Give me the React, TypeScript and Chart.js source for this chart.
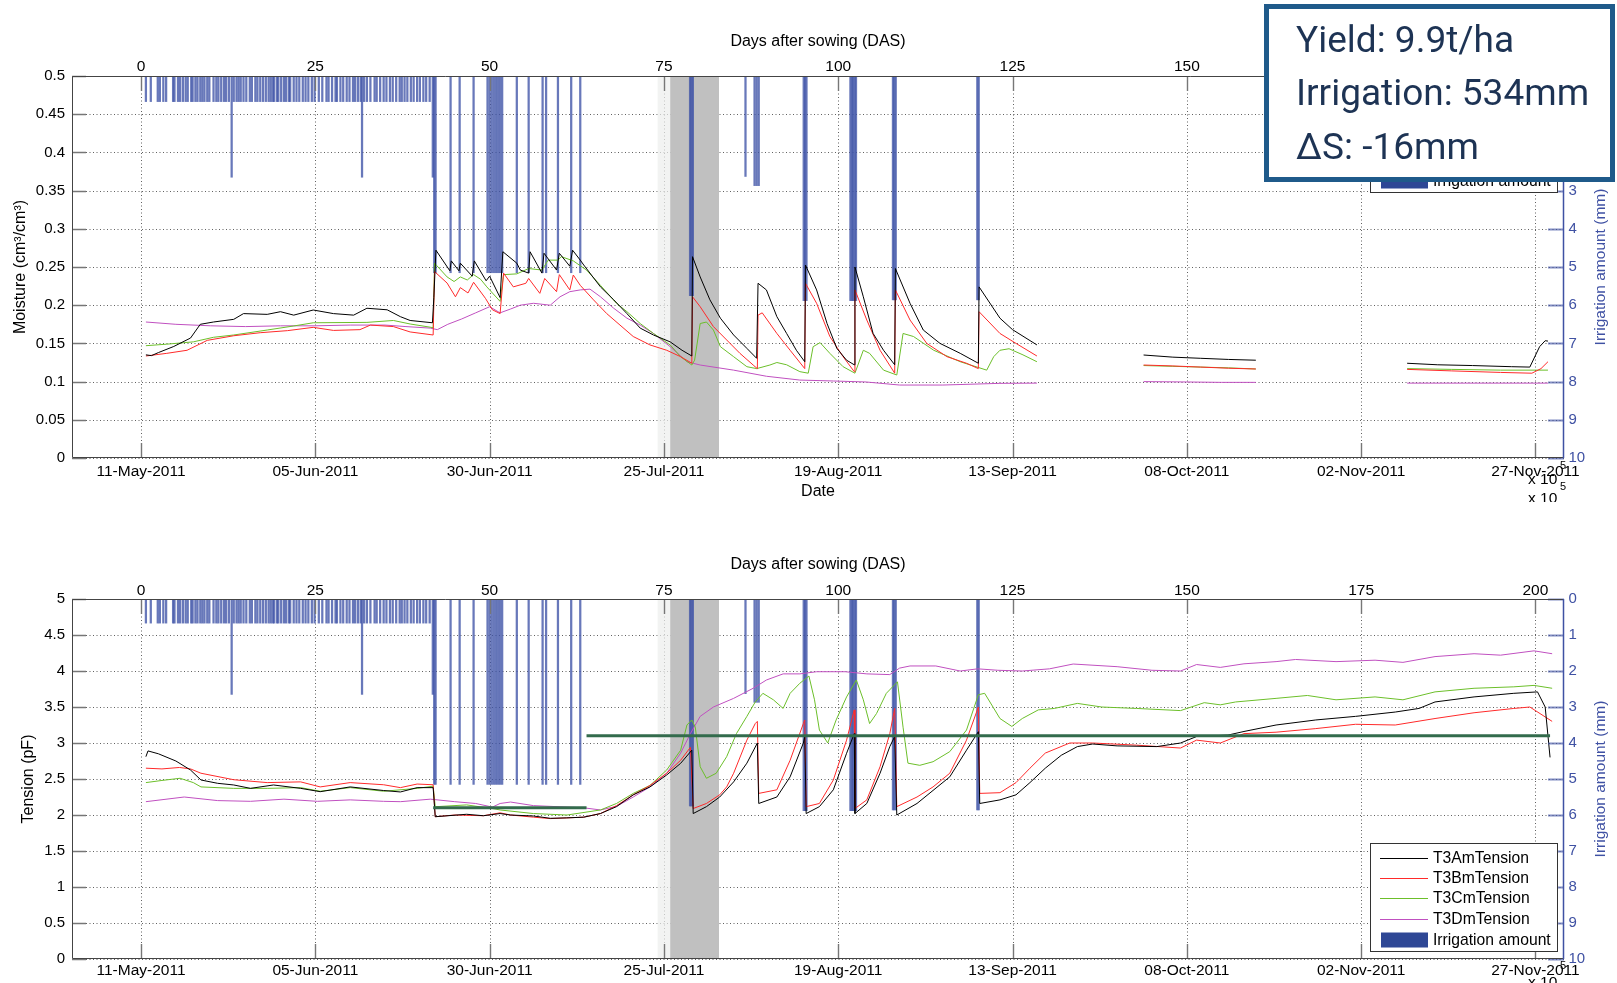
import React, { useEffect, useRef } from 'react';
import { Chart, registerables } from 'chart.js';
Chart.register(...registerables);

// ---------- axes / labels ----------
const dasRange = [-9.9, 204.1];
const dasTicks = [0, 25, 50, 75, 100, 125, 150, 175, 200];
const dateLabels = ['11-May-2011', '05-Jun-2011', '30-Jun-2011', '25-Jul-2011', '19-Aug-2011', '13-Sep-2011', '08-Oct-2011', '02-Nov-2011', '27-Nov-2011'];
const moistTicks = [0, 0.05, 0.1, 0.15, 0.2, 0.25, 0.3, 0.35, 0.4, 0.45, 0.5];
const tensionTicks = [0, 0.5, 1, 1.5, 2, 2.5, 3, 3.5, 4, 4.5, 5];
const irrigTicks = [0, 1, 2, 3, 4, 5, 6, 7, 8, 9, 10];
const grayBandDas = [75.9, 82.9];
const lightBandDas = [74.1, 75.9];
const legendTopLabels = ['T3AmMoisture', 'T3BmMoisture', 'T3CmMoisture', 'T3DmMoisture', 'Irrigation amount'];
const legendBottomLabels = ['T3AmTension', 'T3BmTension', 'T3CmTension', 'T3DmTension', 'Irrigation amount'];
const infoLines = ['Yield: 9.9t/ha', 'Irrigation: 534mm', '\u0394S: -16mm'];

// ---------- irrigation events [DAS, mm] ----------
const irrigation: [number, number][] = [
  [0.7, 0.67], [1.4, 0.67], [2.4, 0.67], [2.7, 0.67], [3.2, 0.67], [3.6, 0.67], [4.6, 0.67], [4.8, 0.67], [5.3, 0.67], [5.6, 0.67],
  [6.0, 0.67], [6.4, 0.67], [6.7, 0.67], [7.2, 0.67], [7.4, 0.67], [7.8, 0.67], [8.1, 0.67], [8.5, 0.67], [8.8, 0.67], [9.1, 0.67],
  [9.5, 0.67], [9.8, 0.67], [10.4, 0.67], [10.8, 0.67], [11.1, 0.67], [11.5, 0.67], [11.9, 0.67], [12.2, 0.67], [12.6, 0.67], [13.0, 2.65],
  [13.3, 0.67], [13.7, 0.67], [14.0, 0.67], [14.3, 0.67], [14.7, 0.67], [15.1, 0.67], [15.6, 0.67], [15.9, 0.67], [16.4, 0.67], [16.7, 0.67],
  [17.1, 0.67], [17.5, 0.67], [17.9, 0.67], [18.3, 0.67], [18.6, 0.67], [18.9, 0.67], [19.1, 0.67], [19.5, 0.67], [19.7, 0.67], [20.1, 0.67],
  [20.5, 0.67], [20.8, 0.67], [21.2, 0.67], [21.4, 0.67], [21.9, 0.67], [22.3, 0.67], [22.7, 0.67], [23.2, 0.67], [23.6, 0.67], [24.0, 0.67],
  [24.5, 0.67], [24.9, 0.67], [25.5, 0.67], [26.0, 0.67], [26.6, 0.67], [26.9, 0.67], [27.4, 0.67], [27.9, 0.67], [28.1, 0.67], [28.6, 0.67],
  [29.0, 0.67], [29.5, 0.67], [29.9, 0.67], [30.4, 0.67], [30.7, 0.67], [31.1, 0.67], [31.5, 0.67], [31.7, 2.65], [32.0, 0.67], [32.4, 0.67],
  [32.9, 0.67], [33.5, 0.67], [33.8, 0.67], [34.3, 0.67], [34.8, 0.67], [35.2, 0.67], [35.7, 0.67], [36.1, 0.67], [36.6, 0.67], [37.1, 0.67],
  [37.4, 0.67], [37.8, 0.67], [38.2, 0.67], [38.7, 0.67], [39.1, 0.67], [39.6, 0.67], [40.0, 0.67], [40.5, 0.67], [40.9, 0.67], [41.4, 0.67],
  [41.85, 2.65], [42.05, 5.15], [42.25, 5.15], [44.4, 5.15], [45.7, 5.15], [47.7, 5.15], [49.7, 5.15], [50.0, 5.15], [50.3, 5.15], [50.6, 5.15],
  [50.9, 5.15], [51.2, 5.15], [51.5, 5.15], [51.8, 5.15], [53.9, 5.15], [55.6, 5.15], [57.6, 5.15],
  [58.1, 5.15], [59.8, 5.15], [61.7, 5.15], [63.0, 5.15],
  [78.75, 5.75], [78.95, 5.75], [79.15, 5.75], [86.7, 2.63], [88.0, 2.87], [88.3, 2.87], [88.6, 2.87],
  [95.05, 5.88], [95.25, 5.88], [95.45, 5.88], [101.75, 5.88], [101.95, 5.88], [102.15, 5.88], [102.35, 5.88], [102.55, 5.88],
  [107.85, 5.86], [108.05, 5.86], [108.25, 5.86], [119.95, 5.86], [120.15, 5.86],
];

// ---------- moisture (cm3/cm3) [DAS, value] ----------
const t3aMoisture: [number, number | null][] = [
  [0.7, 0.135], [1.5, 0.134], [2.5, 0.138], [4.7, 0.146], [7.1, 0.157], [8.5, 0.175], [10.4, 0.178], [13.3, 0.1815], [14.7, 0.189], [18.1, 0.188],
  [20.0, 0.1915], [21.9, 0.187], [24.7, 0.1937], [27.6, 0.189], [30.5, 0.187], [32.4, 0.196], [35.3, 0.194], [37.2, 0.185], [38.6, 0.18], [41.8, 0.177],
  [42.0, 0.21], [42.3, 0.272], [44.3, 0.245], [44.5, 0.258], [45.6, 0.245], [45.8, 0.255], [47.5, 0.238], [47.8, 0.258], [49.5, 0.232], [50.0, 0.238],
  [51.5, 0.21], [51.9, 0.27], [53.9, 0.255], [54.4, 0.246], [55.6, 0.242], [55.8, 0.27], [57.5, 0.242], [57.8, 0.268], [59.6, 0.246], [60.0, 0.268],
  [61.5, 0.251], [61.9, 0.272], [63.0, 0.259], [63.5, 0.2526], [65.9, 0.224], [67.8, 0.207], [69.7, 0.189], [71.6, 0.17], [73.5, 0.161], [75.9, 0.152],
  [77.6, 0.141], [79.0, 0.1335], [79.1, 0.2635], [80.2, 0.237], [81.6, 0.207], [83.1, 0.183], [85.0, 0.161], [86.9, 0.1435], [88.3, 0.1305], [88.5, 0.2287],
  [89.7, 0.22], [91.2, 0.185], [92.6, 0.163], [94.0, 0.141], [95.2, 0.126], [95.3, 0.2526], [96.9, 0.22], [98.4, 0.176], [99.8, 0.1435], [101.2, 0.128],
  [102.3, 0.122], [102.4, 0.25], [103.6, 0.211], [105.0, 0.163], [106.5, 0.141], [108.1, 0.122], [108.2, 0.248], [110.3, 0.2025], [112.2, 0.1675], [114.6, 0.15],
  [117.5, 0.137], [120.1, 0.124], [120.2, 0.224], [123.2, 0.183], [125.0, 0.168], [128.5, 0.148], [136, null],
  [143.8, 0.1348], [148, 0.132], [152, 0.1305], [156, 0.129], [159.9, 0.128], [170, null],
  [181.6, 0.124], [186, 0.122], [191, 0.121], [196.6, 0.1195], [199.2, 0.119], [200.6, 0.1457], [201.4, 0.1535], [201.8, 0.153],
];
const t3bMoisture: [number, number | null][] = [
  [0.7, 0.1335], [3.7, 0.137], [6.6, 0.141], [9.5, 0.154], [13.3, 0.16], [17.1, 0.164], [21.0, 0.1667], [24.7, 0.171], [27.6, 0.167], [31.4, 0.168],
  [32.9, 0.174], [36.2, 0.172], [38.6, 0.165], [41.9, 0.161], [42.1, 0.244], [43.9, 0.229], [45.1, 0.211], [45.8, 0.223], [46.9, 0.216], [47.7, 0.23],
  [49.4, 0.209], [50.4, 0.194], [51.5, 0.189], [52.0, 0.242], [53.4, 0.224], [55.2, 0.2287], [55.6, 0.235], [57.2, 0.2155], [57.9, 0.235], [59.6, 0.2177],
  [60.0, 0.24], [61.5, 0.22], [62.0, 0.2395], [63.0, 0.226], [64.9, 0.207], [66.8, 0.189], [68.7, 0.174], [70.6, 0.159], [73.0, 0.148], [75.4, 0.141],
  [77.4, 0.1326], [79.0, 0.124], [79.1, 0.211], [80.2, 0.198], [82.1, 0.172], [84.0, 0.1545], [85.9, 0.137], [87.8, 0.1217], [88.4, 0.117], [88.5, 0.187],
  [89.1, 0.19], [91.2, 0.163], [93.1, 0.141], [95.2, 0.117], [95.3, 0.2287], [96.9, 0.2025], [98.8, 0.159], [100.7, 0.1326], [102.3, 0.113], [102.4, 0.22],
  [104.1, 0.1806], [106.0, 0.141], [108.1, 0.111], [108.2, 0.22], [110.3, 0.1806], [112.7, 0.15], [115.6, 0.1326], [118.4, 0.124], [120.1, 0.117], [120.2, 0.1915],
  [123.2, 0.163], [125.5, 0.15], [128.5, 0.1335], [136, null],
  [143.8, 0.1217], [148, 0.1205], [152, 0.119], [156, 0.1175], [159.9, 0.1165], [170, null],
  [181.6, 0.116], [188, 0.114], [195, 0.112], [199.5, 0.111], [200.8, 0.117], [201.8, 0.126],
];
const t3cMoisture: [number, number | null][] = [
  [0.7, 0.147], [3.7, 0.149], [7.5, 0.152], [10.4, 0.158], [13.3, 0.161], [18.1, 0.1675], [21.9, 0.1728], [24.7, 0.177], [32.4, 0.1775], [36.2, 0.18],
  [38.6, 0.1754], [41.9, 0.1706], [42.1, 0.255], [43.9, 0.237], [44.9, 0.231], [45.8, 0.237], [46.8, 0.233], [47.7, 0.24], [48.7, 0.234], [49.6, 0.224],
  [51.5, 0.205], [52.0, 0.24], [53.9, 0.241], [55.6, 0.248], [57.5, 0.246], [58.4, 0.259], [59.8, 0.259], [60.3, 0.2635], [62.0, 0.258], [63.9, 0.246],
  [65.9, 0.226], [68.2, 0.2025], [69.7, 0.1915], [71.6, 0.176], [73.5, 0.163], [75.9, 0.148], [77.4, 0.1326], [79.0, 0.1217], [79.4, 0.128], [80.2, 0.176],
  [81.1, 0.178], [82.1, 0.1675], [83.1, 0.1457], [85.0, 0.1326], [86.9, 0.1195], [88.3, 0.117], [90.2, 0.1217], [91.2, 0.125], [92.6, 0.122], [94.5, 0.113],
  [95.7, 0.111], [96.4, 0.1457], [97.4, 0.151], [98.8, 0.137], [100.7, 0.1195], [102.4, 0.111], [103.6, 0.141], [104.5, 0.137], [106.5, 0.115], [108.4, 0.1086],
  [109.3, 0.163], [110.8, 0.159], [113.7, 0.141], [117.5, 0.126], [121.3, 0.115], [122.3, 0.1326], [123.2, 0.141], [124.5, 0.143], [126.5, 0.135], [128.5, 0.126], [136, null],
  [143.8, 0.121], [148, 0.12], [152, 0.119], [156, 0.118], [159.9, 0.1165], [170, null],
  [181.6, 0.117], [188, 0.116], [195, 0.115], [201.8, 0.115],
];
const t3dMoisture: [number, number | null][] = [
  [0.7, 0.178], [5, 0.175], [10, 0.173], [15, 0.172], [20, 0.173], [25, 0.173], [30, 0.174], [35, 0.174], [38, 0.172], [41.5, 0.17],
  [42.5, 0.168], [44, 0.175], [46, 0.182], [48, 0.19], [50, 0.198], [51.5, 0.19], [53, 0.195], [54.4, 0.2], [56.3, 0.2025], [58.7, 0.2],
  [60.1, 0.211], [61.5, 0.2177], [63.0, 0.22], [64.4, 0.221], [65.9, 0.211], [67.8, 0.196], [69.7, 0.183], [71.6, 0.174], [73.5, 0.163], [75.9, 0.1457],
  [78.3, 0.126], [80.2, 0.1217], [85.0, 0.115], [89.7, 0.107], [94.5, 0.102], [99.3, 0.1008], [104, 0.0995], [108.8, 0.0955], [115, 0.0955], [123.2, 0.0977],
  [128.5, 0.098], [136, null],
  [143.8, 0.1], [150, 0.0995], [155, 0.099], [159.9, 0.099], [170, null],
  [181.6, 0.098], [190, 0.098], [201.8, 0.098],
];

// ---------- tension (pF) [DAS, value] ----------
const t3aTension: [number, number][] = [
  [0.7, 2.81], [1.0, 2.89], [2.5, 2.85], [5.0, 2.75], [7.1, 2.625], [8.6, 2.486], [11, 2.44], [13.3, 2.417], [15.7, 2.37], [19.0, 2.417],
  [22.9, 2.37], [25.7, 2.324], [30.0, 2.39], [34.8, 2.34], [37.2, 2.32], [39.6, 2.38], [41.9, 2.38], [42.2, 1.976], [46.7, 2.01], [49.1, 1.99],
  [51.5, 2.02], [53, 2.0], [56.3, 1.986], [58.7, 1.954], [61, 1.96], [63.5, 1.97], [65.9, 2.02], [68.2, 2.116], [70.6, 2.28], [73.0, 2.39],
  [75.4, 2.556], [77.4, 2.718], [79.0, 2.9], [79.2, 2.02], [81.1, 2.116], [83.0, 2.25], [85.0, 2.46], [86.9, 2.72], [88.4, 3.0], [88.6, 2.16],
  [91.2, 2.25], [93.1, 2.53], [95.0, 3.0], [95.2, 3.09], [95.4, 2.02], [97.3, 2.116], [99.3, 2.35], [101.2, 2.857], [102.3, 3.13], [102.4, 2.02],
  [104.1, 2.16], [106.0, 2.58], [107.4, 2.95], [108.1, 3.09], [108.4, 2.0], [111.3, 2.16], [116.0, 2.53], [118.4, 2.9], [120.1, 3.157], [120.3, 2.16],
  [123.2, 2.21], [125.5, 2.28], [127.5, 2.45], [129.7, 2.65], [132.0, 2.83], [134.3, 2.95], [136.5, 2.986], [140, 2.96], [145.7, 2.95], [149.1, 3.0],
  [151.4, 3.09], [155.9, 3.11], [158.2, 3.16], [162.8, 3.25], [168.5, 3.32], [174.2, 3.37], [179.9, 3.43], [183.3, 3.48], [185.6, 3.57], [191.2, 3.64],
  [196.9, 3.69], [200.3, 3.71], [201.4, 3.5], [202.1, 2.8],
];
const t3bTension: [number, number][] = [
  [0.7, 2.65], [3, 2.64], [5.5, 2.66], [7.1, 2.64], [8.6, 2.58], [13.3, 2.49], [18.1, 2.45], [22.9, 2.46], [25.7, 2.39], [30, 2.45],
  [34.8, 2.42], [37.2, 2.38], [39.6, 2.43], [41.9, 2.42], [42.2, 1.976], [45, 2.0], [49.1, 1.99], [51.5, 2.03], [53, 2.0], [56.3, 1.97],
  [58.7, 1.95], [63.5, 1.97], [65.9, 2.02], [68.2, 2.13], [70.6, 2.28], [73.0, 2.41], [75.4, 2.58], [77.4, 2.76], [78.8, 2.94], [79.2, 2.09],
  [81.1, 2.16], [83, 2.28], [84, 2.39], [85, 2.58], [86.9, 3.04], [88.1, 3.27], [88.4, 3.3], [88.6, 2.3], [91.2, 2.35], [93.1, 2.76],
  [95.0, 3.27], [95.2, 3.32], [95.4, 2.116], [97.3, 2.16], [99.3, 2.486], [101.2, 3.04], [102.3, 3.46], [102.4, 2.09], [104.1, 2.21], [106, 2.67],
  [107.4, 3.13], [108.1, 3.48], [108.4, 2.116], [111.3, 2.25], [113.6, 2.39], [116, 2.58], [118.4, 3.04], [120.1, 3.5], [120.3, 2.3], [123.2, 2.31],
  [125.5, 2.45], [127.5, 2.65], [129.7, 2.86], [133.2, 3.0], [136.5, 3.0], [142.8, 2.97], [149.1, 2.93], [151.4, 3.04], [154.8, 3.0], [158.2, 3.13],
  [162.8, 3.15], [168.5, 3.2], [174.2, 3.26], [179.9, 3.25], [185.6, 3.34], [191.2, 3.42], [196.9, 3.48], [199.2, 3.5], [202.4, 3.3],
];
const t3cTension: [number, number][] = [
  [0.7, 2.45], [3, 2.48], [5.6, 2.51], [7.5, 2.45], [8.6, 2.39], [13.3, 2.37], [18.1, 2.37], [22.9, 2.38], [25.7, 2.33], [30, 2.38],
  [34.8, 2.33], [39.6, 2.37], [41.9, 2.4], [42.2, 2.115], [46.7, 2.14], [50.4, 2.09], [51.5, 2.07], [56.3, 2.02], [61.1, 2.0], [65.9, 2.07],
  [68.2, 2.16], [70.6, 2.3], [73.0, 2.41], [75.4, 2.625], [77.4, 2.9], [78.3, 3.25], [79.0, 3.32], [79.5, 3.22], [80.2, 2.67], [81.1, 2.51],
  [82.5, 2.58], [84, 2.81], [85.4, 3.13], [86.9, 3.37], [88.1, 3.57], [89.2, 3.69], [90.7, 3.6], [92.1, 3.48], [93.1, 3.69], [94.5, 3.83],
  [95.8, 3.93], [96.6, 3.6], [97.3, 3.18], [98.5, 3.0], [99.7, 3.32], [101.2, 3.64], [102.6, 3.875], [103.6, 3.6], [104.5, 3.27], [105.5, 3.41],
  [106.9, 3.69], [108.5, 3.85], [109.3, 3.22], [110.0, 2.72], [111.7, 2.69], [113.6, 2.74], [116, 2.88], [118.4, 3.18], [120.1, 3.67], [121, 3.69],
  [122.2, 3.5], [123.2, 3.34], [124.9, 3.23], [126.4, 3.34], [128.7, 3.46], [131, 3.48], [134.3, 3.55], [137.8, 3.5], [142.8, 3.48], [149.1, 3.45],
  [152.5, 3.56], [154.8, 3.53], [157, 3.57], [162.8, 3.62], [167.3, 3.66], [171.4, 3.6], [177, 3.64], [181, 3.6], [185.6, 3.71], [191.2, 3.76],
  [196.9, 3.78], [199.8, 3.8], [202.4, 3.76],
];
const t3dTension: [number, number][] = [
  [0.7, 2.185], [6.2, 2.25], [11, 2.2], [15.7, 2.19], [20.5, 2.22], [25.3, 2.19], [30, 2.21], [34.8, 2.19], [37.2, 2.185], [41.5, 2.22],
  [45, 2.185], [48, 2.16], [50.4, 2.11], [51.5, 2.16], [53, 2.18], [56.3, 2.13], [63.5, 2.1], [65.9, 2.07], [68.2, 2.12], [70.6, 2.25],
  [73, 2.39], [75.4, 2.58], [77.4, 2.86], [78.8, 3.13], [80.2, 3.37], [82.1, 3.5], [85, 3.62], [87.8, 3.76], [89.7, 3.875], [92.1, 3.96],
  [94.5, 3.96], [96.9, 3.99], [101, 3.99], [104.1, 3.96], [107.4, 3.95], [108.8, 4.04], [110.3, 4.07], [114, 4.07], [117.5, 4.0], [120, 4.03],
  [122.9, 4.01], [126.4, 4.0], [130.3, 4.03], [133.7, 4.097], [140, 4.06], [145, 4.01], [149.1, 4.0], [151.4, 4.09], [154.8, 4.05], [158.2, 4.1],
  [162.8, 4.13], [165.6, 4.16], [171.4, 4.13], [177, 4.15], [181, 4.12], [185.6, 4.2], [191.2, 4.24], [195, 4.22], [199.8, 4.28], [202.4, 4.24],
];
const thresholdLow: [number, number][] = [[41.9, 2.1], [63.9, 2.1]];
const thresholdHigh: [number, number][] = [[63.9, 3.1], [202.1, 3.1]];

// ---------- styles ----------
const FONT = '"Liberation Sans", Arial, Helvetica, sans-serif';
const BLUE = '#3f51a3';
const seriesColors = ['#000000', '#ff2a2a', '#6cbf2a', '#c050c0'];
const barColor = 'rgba(62,82,166,0.78)';
const legendBarColor = '#2e4795';
const thresholdColor = '#336b4c';
const TITLE_PX = 16;
const XTICK_PX = 15.5;
const YTICK_PX = 15;

Chart.defaults.font.family = FONT;
Chart.defaults.font.size = YTICK_PX;

const pts = (arr: any[]) => arr.map(([x, y]) => ({ x, y }));

function makeDecor(isTop: boolean) {
  return {
    id: 'decor' + (isTop ? 'Top' : 'Bottom'),
    beforeDatasetsDraw(chart: any) {
      const { ctx, chartArea: a, scales } = chart;
      const xs = scales.x, ys = scales.y;
      ctx.save();
      ctx.strokeStyle = 'rgba(0,0,0,0.62)';
      ctx.lineWidth = 1;
      ctx.setLineDash([1, 2.5]);
      ctx.beginPath();
      for (const t of xs.ticks) {
        const px = Math.round(xs.getPixelForValue(t.value)) + 0.5;
        ctx.moveTo(px, a.top); ctx.lineTo(px, a.bottom);
      }
      for (const t of ys.ticks) {
        const py = Math.round(ys.getPixelForValue(t.value)) + 0.5;
        ctx.moveTo(a.left, py); ctx.lineTo(a.right, py);
      }
      ctx.stroke();
      ctx.setLineDash([]);
      const band = (r: number[], c: string) => {
        const x0 = xs.getPixelForValue(r[0]);
        const x1 = xs.getPixelForValue(r[1]);
        ctx.fillStyle = c;
        ctx.fillRect(x0, a.top, x1 - x0, a.bottom - a.top);
      };
      band(lightBandDas, 'rgba(236,238,236,0.7)');
      band(grayBandDas, '#c0c0c0');
      ctx.restore();
    },
    afterDatasetsDraw(chart: any) {
      const { ctx, chartArea: a, scales } = chart;
      const xs = scales.x, ys = scales.y, y2 = scales.y2;
      ctx.save();
      ctx.strokeStyle = '#777';
      ctx.lineWidth = 1.4;
      ctx.beginPath();
      for (const t of xs.ticks) {
        const px = Math.round(xs.getPixelForValue(t.value)) + 0.5;
        ctx.moveTo(px, a.bottom); ctx.lineTo(px, a.bottom - 15);
        ctx.moveTo(px, a.top); ctx.lineTo(px, a.top + 15);
      }
      for (const t of ys.ticks) {
        const py = Math.round(ys.getPixelForValue(t.value)) + 0.5;
        ctx.moveTo(a.left, py); ctx.lineTo(a.left + 14, py);
      }
      ctx.stroke();
      ctx.strokeStyle = 'rgba(63,81,163,0.65)';
      ctx.lineWidth = 2;
      ctx.beginPath();
      for (const t of y2.ticks) {
        const py = Math.round(y2.getPixelForValue(t.value)) + 0.5;
        ctx.moveTo(a.right, py); ctx.lineTo(a.right - 16, py);
      }
      ctx.stroke();
      ctx.strokeStyle = '#444';
      ctx.lineWidth = 1;
      ctx.beginPath();
      const L = Math.round(a.left) + 0.5, T = Math.round(a.top) + 0.5, B = Math.round(a.bottom) - 0.5, R = Math.round(a.right) - 0.5;
      ctx.moveTo(L, T); ctx.lineTo(R, T);
      ctx.moveTo(L, T); ctx.lineTo(L, B);
      ctx.moveTo(L, B); ctx.lineTo(R, B);
      ctx.stroke();
      ctx.strokeStyle = BLUE;
      ctx.lineWidth = 1.5;
      ctx.beginPath();
      ctx.moveTo(R, a.top); ctx.lineTo(R, a.bottom);
      ctx.stroke();
      ctx.restore();
    },
    afterDraw(chart: any) {
      const { ctx, chartArea: a } = chart;
      ctx.save();
      const w = 187, h = 108;
      const left = a.right - 7 - w;
      const top = isTop ? a.top + 8 : a.bottom - 8 - h;
      ctx.fillStyle = '#fff';
      ctx.fillRect(left, top, w, h);
      ctx.strokeStyle = '#333';
      ctx.lineWidth = 1;
      ctx.strokeRect(Math.round(left) + 0.5, Math.round(top) + 0.5, w, h);
      const rows = [15, 35, 55, 76, 97];
      const labels = isTop ? legendTopLabels : legendBottomLabels;
      ctx.font = '15.7px ' + FONT;
      ctx.textBaseline = 'middle';
      ctx.textAlign = 'left';
      labels.forEach((lab, i) => {
        const ry = top + rows[i];
        if (i < 4) {
          ctx.strokeStyle = seriesColors[i];
          ctx.lineWidth = 1.2;
          ctx.beginPath();
          ctx.moveTo(left + 10, Math.round(ry) + 0.5);
          ctx.lineTo(left + 58, Math.round(ry) + 0.5);
          ctx.stroke();
        } else {
          ctx.fillStyle = legendBarColor;
          ctx.fillRect(left + 11, ry - 7.5, 47, 15);
        }
        ctx.fillStyle = '#000';
        ctx.fillText(lab, left + 63, ry + 0.5);
      });
      ctx.save();
      ctx.translate(1601, (a.top + a.bottom) / 2);
      ctx.rotate(-Math.PI / 2);
      ctx.fillStyle = BLUE;
      ctx.font = '15.5px ' + FONT;
      ctx.textAlign = 'center';
      ctx.textBaseline = 'middle';
      ctx.fillText('Irrigation amount (mm)', 0, 0);
      ctx.restore();
      ctx.fillStyle = '#000';
      ctx.textAlign = 'left';
      ctx.textBaseline = 'middle';
      if (isTop) {
        ctx.font = XTICK_PX + 'px ' + FONT;
        ctx.fillText('x 10', 1528, 480);
        ctx.fillText('x 10', 1528, 499);
        ctx.font = '11px ' + FONT;
        ctx.fillText('5', 1560, 466);
        ctx.fillText('5', 1560, 487);
        const bx = 1264, by = 4, bw = 351, bh = 178;
        ctx.fillStyle = '#fff';
        ctx.fillRect(bx, by, bw, bh);
        ctx.strokeStyle = '#1f5a8a';
        ctx.lineWidth = 5;
        ctx.strokeRect(bx + 2.5, by + 2.5, bw - 5, bh - 5);
        ctx.fillStyle = '#1d3354';
        ctx.font = '37px Roboto, "Liberation Sans", sans-serif';
        ctx.textBaseline = 'alphabetic';
        const baselines = [52, 105, 159];
        infoLines.forEach((s, i) => ctx.fillText(s, 1296, baselines[i]));
      } else {
        ctx.font = '11px ' + FONT;
        ctx.fillText('5', 1560, 464);
        ctx.font = XTICK_PX + 'px ' + FONT;
        ctx.fillText('x 10', 1528, 481);
      }
      ctx.restore();
    },
  };
}

function buildConfig(isTop: boolean) {
  const xTickFont = { size: XTICK_PX, family: FONT };
  const yTickFont = { size: YTICK_PX, family: FONT };
  const titleFont = { size: TITLE_PX, family: FONT };
  const lineDs = (label: string, data: any[], color: string) => ({
    type: 'line', label, data: pts(data), borderColor: color, backgroundColor: color,
    borderWidth: 1, pointRadius: 0, tension: 0, spanGaps: false, xAxisID: 'x', yAxisID: 'y',
  });
  const series = isTop
    ? [t3aMoisture, t3bMoisture, t3cMoisture, t3dMoisture]
    : [t3aTension, t3bTension, t3cTension, t3dTension];
  const labels = isTop ? legendTopLabels : legendBottomLabels;
  const datasets: any[] = [];
  if (!isTop) {
    datasets.push({ ...lineDs('thrLow', thresholdLow, thresholdColor), borderWidth: 3 });
    datasets.push({ ...lineDs('thrHigh', thresholdHigh, thresholdColor), borderWidth: 3 });
  }
  series.forEach((s, i) => datasets.push(lineDs(labels[i], s, seriesColors[i])));
  datasets.push({
    type: 'bar', label: 'Irrigation amount', data: pts(irrigation), xAxisID: 'x', yAxisID: 'y2',
    backgroundColor: barColor, borderWidth: 0, barThickness: 1.6, grouped: false,
  });
  return {
    type: 'line',
    data: { datasets },
    options: {
      responsive: false,
      animation: false,
      events: [],
      layout: { padding: 0 },
      plugins: { legend: { display: false }, tooltip: { enabled: false }, title: { display: false } },
      scales: {
        x: {
          type: 'linear', position: 'bottom', min: dasRange[0], max: dasRange[1], offset: false,
          grid: { display: false, drawTicks: false }, border: { display: false },
          afterBuildTicks: (ax: any) => { ax.ticks = dasTicks.map((v) => ({ value: v })); },
          afterFit: (ax: any) => { ax.height = isTop ? 44 : 24; },
          ticks: { autoSkip: false, maxRotation: 0, minRotation: 0, padding: isTop ? 4.2 : 2.7, color: '#000', font: xTickFont,
            callback: (_v: any, i: number) => dateLabels[i] },
          title: { display: isTop, text: 'Date', color: '#000', font: titleFont, padding: { top: 0, bottom: 0.5 } },
        },
        x2: {
          type: 'linear', position: 'top', min: dasRange[0], max: dasRange[1], offset: false,
          grid: { display: false, drawTicks: false }, border: { display: false },
          afterBuildTicks: (ax: any) => { ax.ticks = dasTicks.map((v) => ({ value: v })); },
          afterFit: (ax: any) => { ax.height = isTop ? 76 : 97; },
          ticks: { autoSkip: false, maxRotation: 0, minRotation: 0, padding: isTop ? 0 : -1, color: '#000', font: xTickFont,
            callback: (v: any) => String(v) },
          title: { display: true, text: 'Days after sowing (DAS)', color: '#000', font: titleFont,
            padding: { top: isTop ? 32.4 : 53.4, bottom: 0 } },
        },
        y: {
          type: 'linear', position: 'left', min: 0, max: isTop ? 0.5 : 5,
          grid: { display: false, drawTicks: false }, border: { display: false },
          afterBuildTicks: (ax: any) => { ax.ticks = (isTop ? moistTicks : tensionTicks).map((v) => ({ value: v })); },
          afterFit: (ax: any) => { ax.width = 72; },
          ticks: { autoSkip: false, padding: 7, color: '#000', font: yTickFont, callback: (v: any) => String(v) },
          title: { display: true, text: isTop ? 'Moisture (cm\u00b3/cm\u00b3)' : 'Tension (pF)', color: '#000', font: titleFont,
            padding: { top: isTop ? 11.2 : 19.4, bottom: 0 } },
        },
        y2: {
          type: 'linear', position: 'right', min: 0, max: 10, reverse: true,
          grid: { display: false, drawTicks: false }, border: { display: false },
          afterBuildTicks: (ax: any) => { ax.ticks = irrigTicks.map((v) => ({ value: v })); },
          afterFit: (ax: any) => { ax.width = 53; },
          ticks: { autoSkip: false, padding: 4.5, color: BLUE, font: yTickFont, callback: (v: any) => String(v) },
          title: { display: false },
        },
      },
    },
    plugins: [makeDecor(isTop)],
  };
}

export default function App() {
  const topRef = useRef<HTMLCanvasElement | null>(null);
  const botRef = useRef<HTMLCanvasElement | null>(null);
  useEffect(() => {
    const c1 = new Chart(topRef.current as any, buildConfig(true) as any);
    const c2 = new Chart(botRef.current as any, buildConfig(false) as any);
    return () => { c1.destroy(); c2.destroy(); };
  }, []);
  return (
    <div style={{ position: 'absolute', left: 0, top: 0, width: 1617, height: 983, background: '#fff', overflow: 'hidden' }}>
      <canvas ref={topRef} width={1617} height={502} style={{ position: 'absolute', left: 0, top: 0, width: 1617, height: 502 }} />
      <canvas ref={botRef} width={1617} height={481} style={{ position: 'absolute', left: 0, top: 502, width: 1617, height: 481 }} />
    </div>
  );
}
